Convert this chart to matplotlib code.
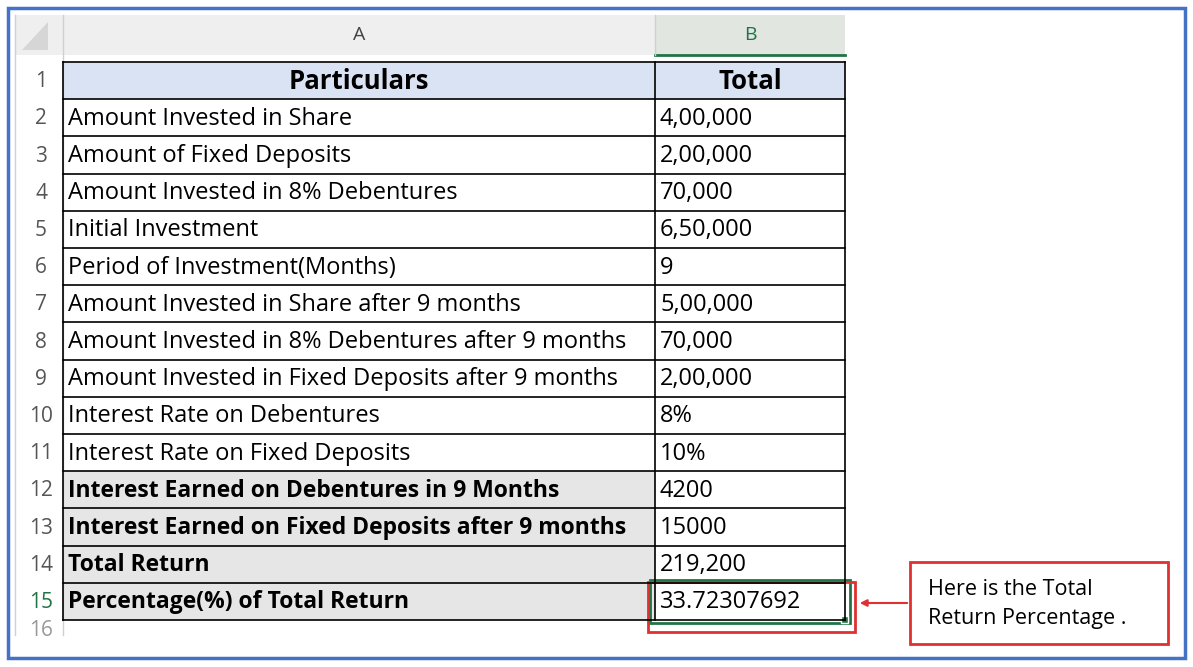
import matplotlib.pyplot as plt
from matplotlib.patches import Rectangle

particulars = [
    "Amount Invested in Share",
    "Amount of Fixed Deposits",
    "Amount Invested in 8% Debentures",
    "Initial Investment",
    "Period of Investment(Months)",
    "Amount Invested in Share after 9 months",
    "Amount Invested in 8% Debentures after 9 months",
    "Amount Invested in Fixed Deposits after 9 months",
    "Interest Rate on Debentures",
    "Interest Rate on Fixed Deposits",
    "Interest Earned on Debentures in 9 Months",
    "Interest Earned on Fixed Deposits after 9 months",
    "Total Return",
    "Percentage(%) of Total Return",
]
totals = ["4,00,000", "2,00,000", "70,000", "6,50,000", "9", "5,00,000", "70,000",
          "2,00,000", "8%", "10%", "4200", "15000", "219,200", "33.72307692"]
bold_rows = [12, 13, 14, 15]

W, H = 1193, 667
plt.rcParams["font.family"] = "Open Sans"
fig = plt.figure(figsize=(W / 100, H / 100), dpi=100)
ax = fig.add_axes([0, 0, 1, 1])
ax.set_xlim(0, W)
ax.set_ylim(H, 0)
ax.axis("off")

# outer blue frame
ax.add_patch(Rectangle((8, 8), 1177, 650, fill=False, ec="#4472c4", lw=2.5))

x_num, x_a, x_b, x_end = 15, 63, 655, 845
hdr_top, hdr_bot = 15, 55
row_top, row_h = 62, 37.2

# column header band
ax.add_patch(Rectangle((x_num, hdr_top), x_end - x_num, hdr_bot - hdr_top, fc="#efefef", ec="none"))
ax.add_patch(Rectangle((x_b, hdr_top), x_end - x_b, hdr_bot - hdr_top, fc="#e1e6e1", ec="none"))
ax.plot([x_b, x_end], [hdr_bot, hdr_bot], color="#217346", lw=2)
ax.plot([x_a, x_a], [hdr_top, 635], color="#d0d0d0", lw=1)
ax.plot([x_b, x_b], [hdr_top, hdr_bot], color="#d0d0d0", lw=1)
ax.plot([x_num, x_num], [hdr_top, 635], color="#d0d0d0", lw=1)
ax.add_patch(plt.Polygon([[48, 22], [48, 50], [22, 50]], fc="#d6d6d6", ec="none"))
ax.text((x_a + x_b) / 2, 35, "A", ha="center", va="center", fontsize=14, color="#444444")
ax.text((x_b + x_end) / 2, 35, "B", ha="center", va="center", fontsize=14, color="#217346")

def ytop(r):
    return row_top + (r - 1) * row_h

# row 1 header
ax.add_patch(Rectangle((x_a, ytop(1)), x_end - x_a, row_h, fc="#dae3f3", ec="none"))
ax.text((x_a + x_b) / 2, ytop(1) + row_h / 2 + 1, "Particulars", ha="center", va="center",
        fontsize=18.5, fontweight="bold")
ax.text((x_b + x_end) / 2, ytop(1) + row_h / 2 + 1, "Total", ha="center", va="center",
        fontsize=18.5, fontweight="bold")

for i, (p, t) in enumerate(zip(particulars, totals)):
    r = i + 2
    yc = ytop(r) + row_h / 2 + 1
    bold = r in bold_rows
    if bold:
        ax.add_patch(Rectangle((x_a, ytop(r)), x_b - x_a, row_h, fc="#e7e6e6", ec="none"))
    ax.text(x_a + 5, yc, p, ha="left", va="center",
            fontsize=16.5 if bold else 17,
            fontweight="bold" if bold else "normal")
    ax.text(x_b + 5, yc, t, ha="left", va="center", fontsize=17)

for r in range(1, 16):
    yc = ytop(r) + row_h / 2 + 1
    ax.text((x_num + x_a) / 2 + 2, yc, str(r), ha="center", va="center", fontsize=15,
            color="#217346" if r == 15 else "#555555")

# grid lines
for r in range(1, 17):
    ax.plot([x_a, x_end], [ytop(r), ytop(r)], color="black", lw=1.2)
for x in (x_a, x_b, x_end):
    ax.plot([x, x], [ytop(1), ytop(16)], color="black", lw=1.2)
ax.text((x_num + x_a) / 2 + 2, ytop(16) + 10, "16", ha="center", va="center", fontsize=15, color="#999999")

# selected cell + highlight
ax.add_patch(Rectangle((x_b - 5, ytop(15) - 3), x_end - x_b + 10, row_h + 6, fill=False, ec="#217346", lw=2))
ax.add_patch(Rectangle((x_end - 4, ytop(16) - 4), 7, 7, fc="#217346", ec="white", lw=1))
ax.add_patch(Rectangle((648, 582), 207, 50, fill=False, ec="#e03030", lw=2))

# callout
ax.add_patch(Rectangle((910, 562), 258, 82, fill=False, ec="#e03030", lw=2))
ax.text(928, 604, "Here is the Total\nReturn Percentage .", ha="left", va="center",
        fontsize=15.5, linespacing=1.45)
ax.annotate("", xy=(857, 603), xytext=(910, 603),
            arrowprops=dict(arrowstyle="-|>", color="#e03030", lw=1.5))

fig.savefig("out.png", dpi=100)
